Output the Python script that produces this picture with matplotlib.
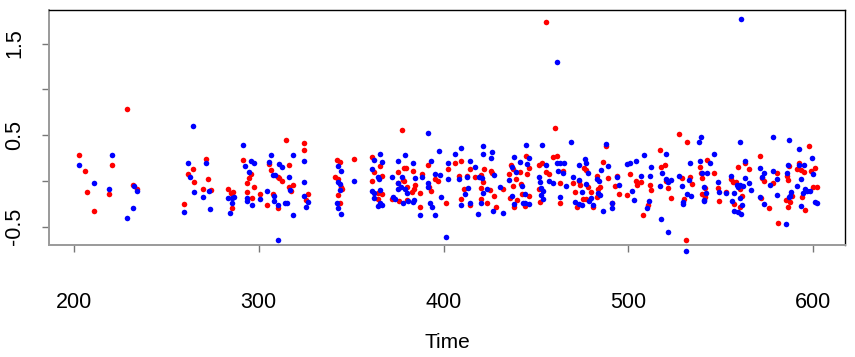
import matplotlib
matplotlib.use("Agg")
import matplotlib.pyplot as plt

plt.rcParams['font.family'] = ['Liberation Sans', 'DejaVu Sans']

# red series (Time, value)
red_x = [228.6, 202.8, 206.0, 206.9, 211.1, 220.8, 218.8, 231.8, 234.0, 264.6, 261.7, 265.2, 259.8,
         271.7, 272.8, 269.9, 274.0, 283.6, 284.8, 286.3, 285.4, 291.7, 295.6, 294.6, 293.8, 297.5,
         293.7, 296.6, 300.7, 305.6, 306.5, 310.3, 311.2, 312.6, 314.8, 316.6, 316.6, 318.7, 317.5,
         307.5, 304.5, 310.6, 324.7, 324.7, 326.5, 325.6,
         342.2, 343.8, 341.3, 342.7, 344.5, 344.9, 342.7, 343.8, 351.4, 361.4, 362.5, 365.6, 366.5,
         361.4, 364.3, 366.5, 364.7, 377.5, 375.3, 378.0, 378.8, 379.5, 383.4, 378.8, 380.4, 383.8,
         384.5, 375.5, 383.1, 371.9, 376.1, 380.0, 387.4, 387.4, 391.6, 388.5, 395.3, 397.2, 392.1,
         393.0, 401.5, 402.2, 406.2, 409.4, 408.3, 411.2, 409.2, 414.3, 412.5, 414.3, 417.0, 421.7,
         420.0, 421.3, 420.0, 420.0,
         423.3, 425.5, 426.4, 425.1, 427.3, 428.3, 432.3, 436.3, 437.7, 435.4, 439.2, 437.7, 435.9,
         438.3, 444.4, 446.2, 445.3, 441.3, 441.7, 442.4, 446.4, 443.8, 439.5, 451.4, 453.2, 455.4,
         457.2, 451.4, 452.1, 460.3, 459.4, 461.2, 464.8, 463.0, 463.0, 470.2, 471.1, 473.1, 473.8,
         471.9, 475.6, 477.0, 475.9, 477.0, 478.3, 481.0, 479.9, 483.2, 484.6, 483.7, 483.2, 487.8,
         486.4, 489.1, 491.1, 492.5, 494.0, 495.0, 499.0,
         501.0, 504.0, 504.6, 506.9, 508.0, 510.7, 511.4, 512.2, 516.9, 517.6, 519.7, 520.1, 521.4,
         523.0, 527.5, 531.8, 528.9, 529.8, 533.4, 534.2, 530.9, 538.7, 539.2, 539.9, 542.3, 546.4,
         541.4, 539.6, 541.4, 548.2, 548.9, 552.9, 555.4, 556.7, 556.9, 559.4, 563.0, 565.2, 558.3,
         560.3, 561.2, 560.3, 571.3, 572.4, 573.5, 578.1, 571.7, 576.2,
         597.4, 601.0, 586.9, 592.0, 591.3, 593.1, 594.9, 598.9, 580.1, 585.5, 586.2, 599.9, 602.1,
         594.0, 588.4, 585.2, 587.3, 595.2, 586.4, 581.0, 455.2]
red_y = [0.786, 0.280, 0.106, -0.124, -0.328, 0.171, -0.142, -0.044, -0.087, 0.135, 0.076, -0.011, -0.247,
         0.240, 0.025, -0.084, -0.098, -0.087, -0.135, -0.116, -0.298, 0.229, 0.073, 0.029, -0.025, -0.066,
         -0.124, -0.186, -0.142, 0.186, 0.120, 0.040, 0.036, 0.004, 0.444, 0.175, -0.062, -0.047, -0.109,
         -0.142, -0.266, -0.298, 0.418, 0.335, -0.142, -0.207,
         0.229, 0.211, 0.047, 0.018, -0.062, -0.091, -0.153, -0.244, 0.244, 0.266, 0.095, 0.164, 0.055,
         -0.004, -0.127, -0.142, -0.193, 0.553, 0.102, 0.011, 0.142, 0.138, 0.113, 0.000, -0.069, -0.091,
         -0.044, -0.025, -0.116, -0.197, -0.215, -0.207, -0.135, -0.287, 0.171, 0.080, 0.025, 0.004, -0.069,
         -0.109, -0.237, 0.131, 0.193, 0.215, 0.058, -0.084, -0.193, 0.131, 0.055, -0.262, 0.040, 0.131,
         0.066, -0.007, -0.080, -0.200,
         -0.244, 0.109, 0.084, -0.098, -0.164, -0.287, -0.087, 0.178, 0.135, 0.076, 0.025, -0.055, -0.189,
         -0.287, 0.277, 0.138, 0.076, 0.095, -0.033, -0.142, -0.164, -0.273, -0.207, 0.178, 0.197, 0.098,
         0.080, -0.091, -0.226, 0.579, 0.262, 0.269, 0.109, -0.025, -0.237, -0.018, -0.120, -0.004, -0.040,
         -0.280, -0.197, -0.193, 0.146, 0.120, -0.069, -0.280, -0.120, 0.055, -0.062, -0.084, -0.178, 0.382,
         0.207, 0.036, -0.244, -0.055, 0.055, -0.138, -0.156,
         0.076, 0.000, -0.044, -0.011, -0.371, -0.262, -0.044, -0.098, 0.338, 0.156, 0.175, 0.004, -0.073,
         -0.182, 0.513, 0.422, 0.029, -0.200, 0.040, -0.033, -0.648, 0.149, 0.091, 0.033, 0.229, 0.091,
         -0.073, -0.146, -0.171, -0.076, -0.222, -0.116, 0.018, -0.007, -0.251, 0.149, 0.200, 0.135, -0.007,
         -0.084, -0.164, -0.280, 0.273, 0.029, 0.004, -0.018, -0.189, -0.298,
         0.382, 0.146, 0.164, 0.200, 0.127, 0.120, 0.102, 0.109, 0.084, 0.055, 0.007, -0.062, -0.062,
         -0.171, -0.164, -0.207, -0.229, -0.317, -0.287, -0.455, 1.739]

# blue series (Time, value)
blue_x = [202.8, 211.1, 220.8, 218.8, 231.8, 228.9, 232.7, 234.0, 264.6, 261.7, 262.6, 265.2, 259.8,
          271.7, 272.9, 269.9, 273.8, 283.6, 285.4, 286.8, 285.7, 284.7, 291.7, 292.8, 295.6, 297.5,
          294.6, 293.8, 293.8, 296.6, 300.7, 305.6, 306.5, 307.5, 308.8, 310.8, 312.6, 318.7, 316.6,
          316.9, 304.5, 308.4, 308.4, 310.6, 314.4, 315.5, 318.7, 310.6, 324.7, 324.7, 324.7, 326.5, 325.6,
          342.7, 344.5, 342.7, 343.8, 343.8, 342.2, 343.1, 344.5, 351.4, 365.6, 362.5, 366.5, 361.4,
          364.3, 365.1, 361.4, 362.5, 365.6, 362.5, 365.6, 364.3, 366.5, 379.3, 375.3, 372.3, 377.3,
          375.2, 383.3, 384.5, 375.5, 377.0, 379.1, 380.0, 372.8, 373.7, 378.2, 380.9, 384.2, 383.4,
          387.4, 391.6, 397.3, 393.4, 388.5, 395.3, 398.2, 391.4, 391.4, 398.4, 392.8, 393.5, 395.3,
          401.3, 402.4, 406.3, 409.4, 402.4, 408.3, 413.4, 411.4, 409.2, 414.3, 412.5, 414.3, 417.0,
          421.3, 421.3, 419.3, 420.6, 421.5, 420.0, 418.4,
          423.3, 426.4, 425.5, 427.3, 426.5, 432.3, 430.5, 438.1, 436.8, 439.2, 435.2, 437.0, 438.3,
          441.3, 444.4, 446.0, 445.3, 442.4, 444.2, 442.8, 444.0, 446.4, 453.2, 455.4, 451.4, 452.1,
          452.9, 453.6, 453.9, 452.5, 457.2, 459.0, 461.2, 463.0, 465.1, 462.1, 464.4, 466.2, 463.0,
          469.1, 470.2, 473.1, 473.1, 474.9, 471.2, 473.4, 474.9, 476.3, 477.0, 478.1, 477.0, 478.8,
          479.9, 481.0, 485.0, 483.2, 483.9, 483.7, 484.6, 486.0, 487.8, 488.9, 491.1, 491.1, 495.0,
          494.0, 499.0,
          500.8, 502.1, 503.0, 504.0, 506.9, 508.2, 510.0, 510.9, 511.6, 512.0, 517.2, 518.3, 520.1,
          520.5, 521.5, 522.8, 517.4, 521.4, 527.5, 528.9, 529.5, 529.6, 531.6, 532.9, 533.3, 533.8,
          538.3, 539.4, 538.8, 539.9, 542.3, 544.3, 546.2, 541.0, 541.7, 540.8, 541.0, 548.2, 548.9,
          552.9, 555.4, 556.9, 556.1, 557.2, 560.1, 562.8, 558.7, 559.4, 560.5, 561.9, 563.2, 565.2,
          566.2, 560.5, 561.2, 559.4, 560.8, 571.3, 573.5, 572.4, 576.3, 578.1, 578.1, 571.3, 573.3,
          587.0, 592.4, 599.0, 599.9, 586.2, 592.4, 594.7, 580.5, 585.5, 593.3, 591.3, 595.4, 596.7,
          598.1, 594.2, 588.0, 587.3, 586.6, 580.1, 600.8, 602.1, 593.1, 585.2,
          461.3, 560.6, 530.9]
blue_y = [0.171, -0.025, 0.284, -0.087, -0.298, -0.408, -0.051, -0.109, 0.600, 0.193, 0.040, -0.116, -0.338,
          0.193, -0.106, -0.178, -0.309, -0.182, -0.189, -0.178, -0.237, -0.346, 0.389, 0.167, 0.222, 0.200,
          0.098, -0.189, -0.218, -0.262, -0.193, 0.207, 0.287, 0.069, 0.062, 0.186, 0.156, 0.287, 0.047,
          -0.098, -0.113, -0.164, -0.215, -0.262, -0.237, -0.237, -0.375, -0.644, 0.222, -0.007, -0.164, -0.226, -0.287,
          0.164, 0.113, -0.007, -0.036, -0.098, -0.237, -0.298, -0.360, 0.004, 0.295, 0.229, 0.207, 0.131,
          0.047, 0.025, -0.109, -0.135, -0.098, -0.182, -0.244, -0.273, -0.262, 0.280, 0.215, 0.044, 0.047,
          -0.018, 0.200, 0.036, -0.091, -0.069, -0.084, -0.135, -0.171, -0.200, -0.237, -0.218, -0.207, -0.233,
          -0.375, 0.524, 0.324, 0.215, 0.040, 0.076, 0.069, -0.018, -0.062, -0.178, -0.244, -0.280, -0.375,
          -0.608, 0.193, 0.295, 0.357, 0.022, 0.018, -0.076, -0.138, -0.258, 0.215, 0.040, -0.244, 0.156,
          0.382, 0.295, 0.040, 0.029, -0.135, -0.237, -0.360,
          -0.087, 0.313, 0.251, 0.069, -0.328, -0.353, -0.069, 0.262, 0.149, 0.098, 0.011, -0.164, -0.251,
          0.204, 0.397, 0.255, 0.186, -0.055, -0.142, -0.244, -0.237, -0.251, 0.397, 0.171, 0.044, -0.011,
          -0.080, -0.113, -0.200, -0.156, 0.004, -0.025, 0.200, 0.193, 0.193, 0.113, 0.091, -0.055, -0.171,
          0.429, 0.047, 0.171, 0.011, -0.116, -0.226, -0.255, -0.262, 0.237, 0.200, 0.084, -0.033, -0.222,
          -0.189, -0.262, 0.120, 0.018, 0.004, -0.135, -0.156, -0.324, 0.404, 0.164, -0.298, -0.244, -0.044,
          0.040, 0.186,
          0.193, -0.109, -0.211, 0.218, 0.058, 0.287, -0.298, -0.218, 0.055, 0.149, -0.051, 0.084, 0.291,
          0.025, -0.007, 0.011, -0.411, -0.557, 0.058, -0.058, -0.229, -0.251, -0.138, 0.015, 0.193, -0.160,
          0.429, 0.484, 0.218, 0.091, 0.091, 0.197, 0.291, -0.062, -0.131, -0.207, -0.215, -0.011, -0.116,
          -0.135, 0.058, -0.135, -0.222, -0.324, 0.422, 0.215, -0.044, -0.069, -0.044, -0.055, 0.036, -0.018,
          -0.098, -0.189, -0.258, -0.338, -0.360, 0.142, 0.091, 0.040, -0.047, 0.477, 0.106, -0.171, -0.251,
          0.444, 0.349, 0.247, 0.076, 0.175, 0.178, 0.175, 0.025, 0.084, 0.025, -0.055, -0.091, -0.109,
          -0.109, -0.127, -0.116, -0.164, -0.178, -0.153, -0.226, -0.244, -0.273, -0.469,
          1.295, 1.765, -0.764]

x_ticks = [200, 300, 400, 500, 600]
y_ticks = [-0.5, 0.0, 0.5, 1.0, 1.5]
y_labels = ['-0.5', '', '0.5', '', '1.5']

W, H = 855, 357
fig = plt.figure(figsize=(W / 100, H / 100), dpi=100)
ax = fig.add_axes([49 / W, (H - 245) / H, (845 - 49) / W, (245 - 9.5) / H])

ax.scatter(red_x, red_y, s=16, color='#ff0000', linewidths=0, clip_on=False, zorder=3)
ax.scatter(blue_x, blue_y, s=16, color='#0000ff', linewidths=0, clip_on=False, zorder=3)

ax.set_xlim(186.6, 617.1)
ax.set_ylim(-0.699, 1.872)

ax.set_xticks(x_ticks)
ax.set_xticklabels([str(v) for v in x_ticks])
ax.set_yticks(y_ticks)
ax.set_yticklabels(y_labels, rotation=90, va='center')

for side in ['top', 'right']:
    ax.spines[side].set_color('black')
    ax.spines[side].set_linewidth(1.0)
for side in ['left', 'bottom']:
    ax.spines[side].set_color('#9a9a9a')
    ax.spines[side].set_linewidth(1.4)

ax.tick_params(axis='x', length=5, width=1, color='#777777', pad=29, labelsize=15.5)
ax.tick_params(axis='y', length=5, width=1, color='#777777', pad=12, labelsize=15.5)

fig.text(447 / W, 1 - 342 / H, 'Time', ha='center', va='center', fontsize=15)

fig.savefig('out.png', dpi=100)
